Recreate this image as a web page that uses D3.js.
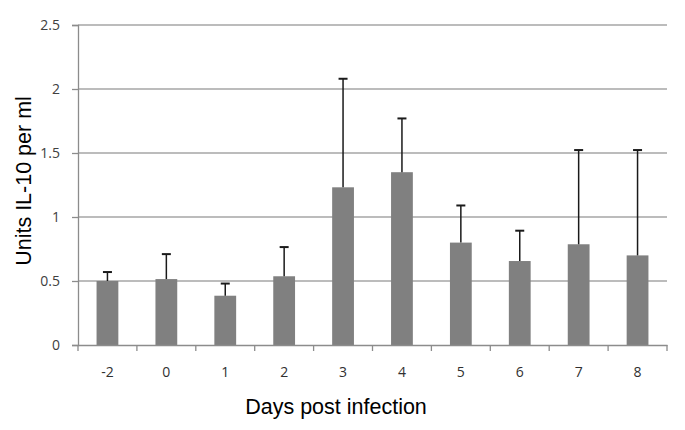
<!DOCTYPE html>
<html><head><meta charset="utf-8">
<script src="https://cdn.jsdelivr.net/npm/d3@7"></script>
<style>body{margin:0;background:#fff;} svg{display:block;}</style>
</head><body>
<svg id="c" width="685" height="430"></svg>
<script>
const categories = ["-2","0","1","2","3","4","5","6","7","8"];
const values = [0.50,0.515,0.385,0.537,1.232,1.35,0.80,0.656,0.787,0.70];
const errors = [0.07,0.195,0.095,0.228,0.848,0.42,0.29,0.237,0.736,0.823];
const yTicks = [0,0.5,1,1.5,2,2.5];
const yTickLabels = ["0","0.5","1","1.5","2","2.5"];

const svg = d3.select("#c");
const m = {l:78, r:667, t:25, b:345};
const x = d3.scaleBand().domain(categories).range([m.l, m.r]).paddingInner(0.63).paddingOuter(0.315);
const xb = d3.scaleBand().domain(categories).range([m.l, m.r]);
const y = d3.scaleLinear().domain([0,2.5]).range([m.b, m.t]);

// gridlines
svg.append("g").selectAll("line").data(yTicks.slice(1)).join("line")
  .attr("x1", m.l).attr("x2", m.r).attr("y1", d=>y(d)).attr("y2", d=>y(d))
  .attr("stroke","#a6a6a6").attr("stroke-width",1.6);

// y axis
const ya = svg.append("g").attr("transform",`translate(${m.l},0)`)
  .call(d3.axisLeft(y).tickValues(yTicks).tickFormat((d,i)=>yTickLabels[i]).tickSize(6).tickPadding(12));
ya.select(".domain").attr("stroke","#8c8c8c").attr("stroke-width",1.3);
ya.selectAll(".tick line").attr("stroke","#8c8c8c").attr("stroke-width",1.3);
ya.selectAll("text").attr("font-family","'Open Sans', 'Liberation Sans', sans-serif").attr("font-size",14).attr("fill","#404040");

// bars
svg.append("g").selectAll("rect").data(categories).join("rect")
  .attr("x", d=>x(d)).attr("width", x.bandwidth())
  .attr("y", (d,i)=>y(values[i])).attr("height",(d,i)=>y(0)-y(values[i]))
  .attr("fill","#808080");

// error bars
const eb = svg.append("g").attr("stroke","#1a1a1a").attr("stroke-width",1.5);
categories.forEach((c,i)=>{
  const cx = x(c)+x.bandwidth()/2;
  eb.append("line").attr("x1",cx).attr("x2",cx).attr("y1",y(values[i])).attr("y2",y(values[i]+errors[i]));
  eb.append("line").attr("x1",cx-4.5).attr("x2",cx+4.5).attr("y1",y(values[i]+errors[i])).attr("y2",y(values[i]+errors[i])).attr("stroke-width",2);
});

// x axis
const xa = svg.append("g").attr("transform",`translate(0,${m.b})`)
  .call(d3.axisBottom(xb).tickSize(0).tickPadding(22));
xa.select(".domain").attr("stroke","#8c8c8c").attr("stroke-width",1.3);
xa.selectAll("text").attr("font-family","'Open Sans', 'Liberation Sans', sans-serif").attr("font-size",14).attr("fill","#303030");
// x boundary tick marks
svg.append("g").selectAll("line").data(d3.range(categories.length+1)).join("line")
  .attr("x1", i=>m.l + i*xb.step()).attr("x2", i=>m.l + i*xb.step())
  .attr("y1", m.b).attr("y2", m.b+6).attr("stroke","#8c8c8c").attr("stroke-width",1.3);

// titles
svg.append("text").attr("x",336).attr("y",414).attr("text-anchor","middle")
  .attr("font-family","'Liberation Sans', Arial, sans-serif").attr("font-size",21.5).attr("fill","#000")
  .text("Days post infection");
svg.append("text").attr("transform","translate(31,181) rotate(-90)").attr("text-anchor","middle")
  .attr("font-family","'Liberation Sans', Arial, sans-serif").attr("font-size",21.5).attr("fill","#000")
  .text("Units IL-10 per ml");
</script>
</body></html>
